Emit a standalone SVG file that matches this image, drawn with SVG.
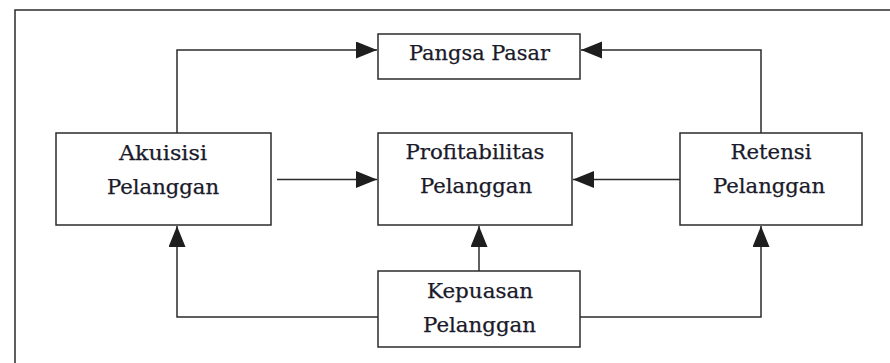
<svg xmlns="http://www.w3.org/2000/svg" width="890" height="363" viewBox="0 0 890 363">
<defs>
<style>
.box{fill:none;stroke:#2b2b2b;stroke-width:1.5}
.ln{fill:none;stroke:#2b2b2b;stroke-width:1.5}
text{font-family:'DejaVu Serif','Liberation Serif',serif;font-size:19.5px;fill:#1a1a2a;stroke:#1a1a2a;stroke-width:0.25;text-anchor:middle}
</style>
<marker id="ah" markerUnits="userSpaceOnUse" markerWidth="22" markerHeight="18" refX="21" refY="8.5" orient="auto">
<path d="M0,0 L21,8.5 L0,17 Z" fill="#1e1e1e"/>
</marker>
</defs>
<rect width="890" height="363" fill="#ffffff"/>
<g id="frame">
<path class="ln" d="M15,363 V10 H890"/>
</g>
<g id="connectors">
<path class="ln" d="M177,133 V50 H377" marker-end="url(#ah)"/>
<path class="ln" d="M761,133 V50 H581" marker-end="url(#ah)"/>
<path class="ln" d="M277,179.5 H377" marker-end="url(#ah)"/>
<path class="ln" d="M680,179.5 H573" marker-end="url(#ah)"/>
<path class="ln" d="M479,271 V226" marker-end="url(#ah)"/>
<path class="ln" d="M378,317 H177 V226" marker-end="url(#ah)"/>
<path class="ln" d="M580,317 H761 V226" marker-end="url(#ah)"/>
</g>
<g id="pangsa">
<rect class="box" x="378" y="34" width="202" height="45"/>
<text x="479.5" y="60" textLength="141" lengthAdjust="spacingAndGlyphs">Pangsa Pasar</text>
</g>
<g id="akuisisi">
<rect class="box" x="56" y="133" width="215" height="92"/>
<text x="163" y="160" textLength="88" lengthAdjust="spacingAndGlyphs">Akuisisi</text>
<text x="163" y="194" textLength="112" lengthAdjust="spacingAndGlyphs">Pelanggan</text>
</g>
<g id="profitabilitas">
<rect class="box" x="378" y="133" width="194" height="92"/>
<text x="475" y="159" textLength="139" lengthAdjust="spacingAndGlyphs">Profitabilitas</text>
<text x="476" y="193" textLength="112" lengthAdjust="spacingAndGlyphs">Pelanggan</text>
</g>
<g id="retensi">
<rect class="box" x="680" y="133" width="182" height="92"/>
<text x="771" y="159" textLength="81" lengthAdjust="spacingAndGlyphs">Retensi</text>
<text x="769" y="193" textLength="112" lengthAdjust="spacingAndGlyphs">Pelanggan</text>
</g>
<g id="kepuasan">
<rect class="box" x="378" y="271" width="202" height="76"/>
<text x="480" y="298" textLength="106" lengthAdjust="spacingAndGlyphs">Kepuasan</text>
<text x="479.5" y="332" textLength="113" lengthAdjust="spacingAndGlyphs">Pelanggan</text>
</g>
</svg>
